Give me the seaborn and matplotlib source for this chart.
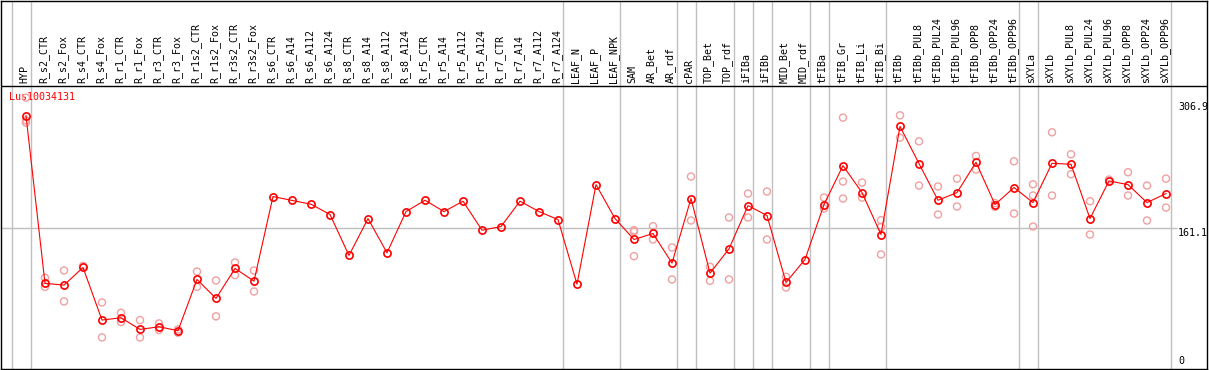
import numpy as np
import pandas as pd
import seaborn as sns
import matplotlib.pyplot as plt

GENE = "Lus10034131"

samples = [
    "HYP", "R_s2_CTR", "R_s2_Fox", "R_s4_CTR", "R_s4_Fox", "R_r1_CTR", "R_r1_Fox",
    "R_r3_CTR", "R_r3_Fox", "R_r1s2_CTR", "R_r1s2_Fox", "R_r3s2_CTR", "R_r3s2_Fox",
    "R_s6_CTR", "R_s6_A14", "R_s6_A112", "R_s6_A124", "R_s8_CTR", "R_s8_A14",
    "R_s8_A112", "R_s8_A124", "R_r5_CTR", "R_r5_A14", "R_r5_A112", "R_r5_A124",
    "R_r7_CTR", "R_r7_A14", "R_r7_A112", "R_r7_A124", "LEAF_N", "LEAF_P", "LEAF_NPK",
    "SAM", "AR_Bet", "AR_rdf", "cPAR", "TOP_Bet", "TOP_rdf", "iFIBa", "iFIBb",
    "MID_Bet", "MID_rdf", "tFIBa", "tFIB_Gr", "tFIB_Li", "tFIB_Bi", "tFIBb",
    "tFIBb_PUL8", "tFIBb_PUL24", "tFIBb_PUL96", "tFIBb_OPP8", "tFIBb_OPP24",
    "tFIBb_OPP96", "sXYLa", "sXYLb", "sXYLb_PUL8", "sXYLb_PUL24", "sXYLb_PUL96",
    "sXYLb_OPP8", "sXYLb_OPP24", "sXYLb_OPP96",
]

means = [
    291.5, 96.2, 94.2, 114.7, 53.5, 56.2, 42.6, 45.7, 41.1, 100.8, 78.7, 113.6, 98.8,
    197.3, 192.8, 188.4, 176.4, 128.7, 171.7, 131.8, 179.8, 193.0, 179.8, 191.9,
    158.1, 162.4, 191.9, 179.8, 170.5, 95.3,
    211.2, 171.7, 147.3, 154.3, 119.8, 195.0, 108.1, 136.4, 186.8, 175.2, 97.3,
    124.0, 188.0, 233.3, 201.9, 153.1,
    279.0, 235.7, 193.0, 201.9, 237.2, 188.0, 207.8, 190.3, 236.0, 234.9, 171.7,
    215.5, 211.2, 190.3, 200.8,
]

replicates = [
    [312.4, 286.0, 283.4], [102.7, 92.2], [111.2, 75.2], [116.5], [74.0, 33.3],
    [62.0, 51.2], [53.5, 33.3], [49.6, 41.9], [42.6, 38.7], [110.0, 92.2],
    [99.6, 57.8], [120.6, 105.8], [111.2, 86.8],
    [], [], [], [], [], [], [], [], [], [], [], [], [], [], [], [], [],
    [], [], [158.1, 156.5, 127.9], [162.8, 147.3], [138.0, 100.8], [220.6, 169.4],
    [115.5, 99.2], [172.9, 100.8], [200.8, 172.9], [203.1, 147.3], [103.9, 91.5],
    [], [196.1, 183.3], [289.2, 214.8, 195.0], [213.6, 196.1], [169.8, 162.0, 129.9],
    [291.9, 265.9], [261.6, 210.1], [209.0, 176.4], [218.2, 185.7], [244.6, 228.7],
    [185.3, 189.6], [238.4, 177.5], [211.6, 198.5, 162.4], [272.1, 198.5],
    [246.5, 223.3], [191.9, 153.1], [217.1], [225.6, 198.5], [210.1, 169.4],
    [218.2, 184.5],
]

# last sample index of each group (-1 = left edge)
group_ends = [-1, 0, 28, 31, 34, 35, 37, 38, 39, 41, 42, 45, 52, 53, 60]
y_ticks = [0, 161.1, 306.9]
y_tick_labels = ["0", "161.1", "306.9"]

mean_df = pd.DataFrame({"pos": np.arange(len(samples)), "value": means})
rep_df = pd.DataFrame(
    [(i, v) for i, vals in enumerate(replicates) for v in vals],
    columns=["pos", "value"],
)

RED = "#ff0000"
PINK = "#f0a0a0"
GREY = "#c0c0c0"
mono = "DejaVu Sans Mono"

fig = plt.figure(figsize=(12.09, 3.70), dpi=100)
ax = fig.add_axes([1 / 1209, 1 / 370, 1206 / 1209, 368.5 / 370])

# pixel mapping: x px = 26 + 19*i, y px = 366 - 0.86*v
ax.set_xlim((1 - 26) / 19, (1207 - 26) / 19)
ax.set_ylim((366 - 369) / 0.86, 366 / 0.86)
header_v = (366 - 86) / 0.86

for e in group_ends:
    ax.axvline(e + 0.24, color=GREY, lw=1.0, zorder=1)
label_x = (1177 - 26) / 19
ax.hlines(y_ticks[1], ax.get_xlim()[0], label_x, color=GREY, lw=1.0, zorder=1)
ax.axhline(header_v, color="black", lw=1.0, zorder=2)

sns.scatterplot(data=rep_df, x="pos", y="value", ax=ax, marker="o", s=26,
                facecolor="none", edgecolor=PINK, linewidth=1.0, zorder=3)
sns.lineplot(data=mean_df, x="pos", y="value", ax=ax, color=RED, lw=0.8,
             marker="o", markersize=5.2, markerfacecolor="none",
             markeredgecolor=RED, markeredgewidth=1.2, zorder=4)

label_v = (366 - 83) / 0.86
for i, name in enumerate(samples):
    ax.text(i - 0.08, label_v, name, rotation=90, ha="center", va="bottom",
            fontsize=7.2, family=mono, color="black")

ax.text((9 - 26) / 19, (366 - 97) / 0.86, GENE, ha="left", va="center",
        fontsize=7.2, family=mono, color=RED, zorder=2)

for v, lab in zip(y_ticks, y_tick_labels):
    ax.text(label_x + 0.05, v, lab, ha="left", va="bottom" if v == 0 else "top",
            fontsize=7.2, family=mono, color="black")

ax.set_xticks([])
ax.set_yticks([])
ax.set_xlabel("")
ax.set_ylabel("")
for s in ax.spines.values():
    s.set_color("black")
    s.set_linewidth(1.0)

fig.savefig("out.png", dpi=100)
